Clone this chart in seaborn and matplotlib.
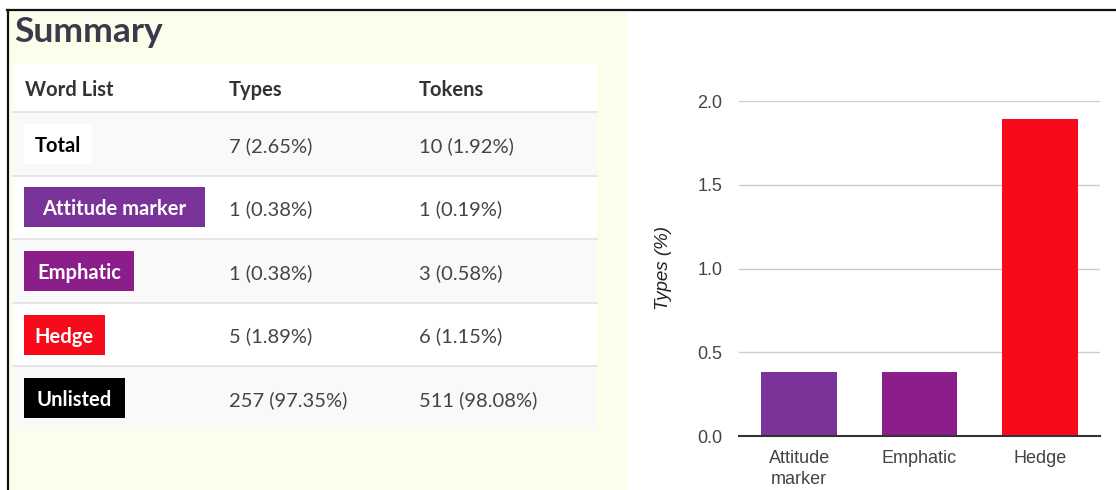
import matplotlib
matplotlib.use("Agg")
import matplotlib.pyplot as plt
from matplotlib.patches import Rectangle
import seaborn as sns
import pandas as pd

# table data
word_lists = ["Total", "Attitude marker", "Emphatic", "Hedge", "Unlisted"]
type_counts = [7, 1, 1, 5, 257]
type_pcts = [2.65, 0.38, 0.38, 1.89, 97.35]
token_counts = [10, 1, 3, 6, 511]
token_pcts = [1.92, 0.19, 0.58, 1.15, 98.08]
label_colors = ["#ffffff", "#7a3399", "#8b1e8b", "#f70a1a", "#000000"]
label_text_colors = ["#000000", "#ffffff", "#ffffff", "#ffffff", "#ffffff"]

# chart data
chart_cats = ["Attitude\nmarker", "Emphatic", "Hedge"]
chart_vals = [0.38, 0.38, 1.89]
chart_colors = ["#7a3399", "#8b1e8b", "#f70a1a"]

W, H = 1116, 490
fig = plt.figure(figsize=(W / 100, H / 100), dpi=100)
fig.patch.set_facecolor("white")

# left panel, drawn in pixel units
page = fig.add_axes([0, 0, 1, 1])
page.set_xlim(0, W)
page.set_ylim(H, 0)
page.axis("off")

page.add_patch(Rectangle((8, 10), 620, 480, fc="#fdfdec", ec="none"))
page.plot([7, W], [10.5, 10.5], color="#111111", lw=1.6)
page.plot([7.5, 7.5], [10, H], color="#111111", lw=1.6)

page.text(14, 32, "Summary", family="Lato", fontweight="bold", fontsize=25.5,
          color="#3a3a4a", va="center", ha="left")

tbl_left, tbl_right = 13, 597
head_top, head_bot = 63, 112
row_h = 63.6
txt_dy = 2  # lato sits a bit high with va=center
page.add_patch(Rectangle((tbl_left, head_top), tbl_right - tbl_left, head_bot - head_top,
                         fc="white", ec="none"))
col_x = [25, 229, 419]
for x, t in zip(col_x, ["Word List", "Types", "Tokens"]):
    page.text(x, 88 + txt_dy, t, family="Lato", fontweight="bold", fontsize=14.5,
              color="#333333", va="center", ha="left")

fig.canvas.draw()
renderer = fig.canvas.get_renderer()
letter_sp = 1.5  # the page uses css letter-spacing

for i, name in enumerate(word_lists):
    top = head_bot + i * row_h
    bg = "#f9f9f9" if i % 2 == 0 else "white"
    page.add_patch(Rectangle((tbl_left, top), tbl_right - tbl_left, row_h, fc=bg, ec="none"))
    page.plot([tbl_left, tbl_right], [top, top], color="#e2e2e2", lw=1.2)
    yc = top + row_h / 2
    txt = page.text(0, yc + txt_dy, name, family="Lato", fontweight="bold", fontsize=14.5,
                    color=label_text_colors[i], va="center", ha="center", zorder=4)
    bw = txt.get_window_extent(renderer).width + 14 + letter_sp * len(name)
    txt.set_x(24 + bw / 2)
    page.add_patch(Rectangle((24, yc - 20), bw, 40,
                             fc=label_colors[i], ec="none", zorder=3))
    page.text(col_x[1], yc + txt_dy, f"{type_counts[i]} ({type_pcts[i]:.2f}%)", family="Lato",
              fontsize=14.5, color="#444444", va="center", ha="left")
    page.text(col_x[2], yc + txt_dy, f"{token_counts[i]} ({token_pcts[i]:.2f}%)", family="Lato",
              fontsize=14.5, color="#444444", va="center", ha="left")

# right panel: bar chart
df = pd.DataFrame({"Category": chart_cats, "Types": chart_vals})
ax = fig.add_axes([739 / W, 1 - 436 / H, (1100 - 739) / W, (436 - 101) / H])
sns.barplot(data=df, x="Category", y="Types", hue="Category", palette=chart_colors,
            width=0.63, legend=False, saturation=1, ax=ax, zorder=3)
ax.set_ylim(0, 2)
ax.set_yticks([0, 0.5, 1.0, 1.5, 2.0])
ax.set_yticklabels(["0.0", "0.5", "1.0", "1.5", "2.0"])
ax.grid(axis="y", color="#cccccc", lw=1, zorder=0)
ax.set_axisbelow(True)
for s in ["left", "right", "top"]:
    ax.spines[s].set_visible(False)
ax.spines["bottom"].set_color("#333333")
ax.spines["bottom"].set_linewidth(1.5)
ax.spines["bottom"].set_zorder(5)
ax.tick_params(axis="both", length=0, labelsize=13, labelcolor="#444444",
               labelfontfamily="Liberation Sans")
ax.tick_params(axis="y", pad=12)
ax.tick_params(axis="x", pad=10)
for lab in ax.get_xticklabels():
    lab.set_linespacing(1.3)
ax.set_xlabel("")
ax.set_ylabel("Types (%)", fontstyle="italic", fontsize=13.5, color="#222222",
              family="Liberation Sans", labelpad=18)
ax.set_facecolor("white")

fig.savefig("out.png", dpi=100)
